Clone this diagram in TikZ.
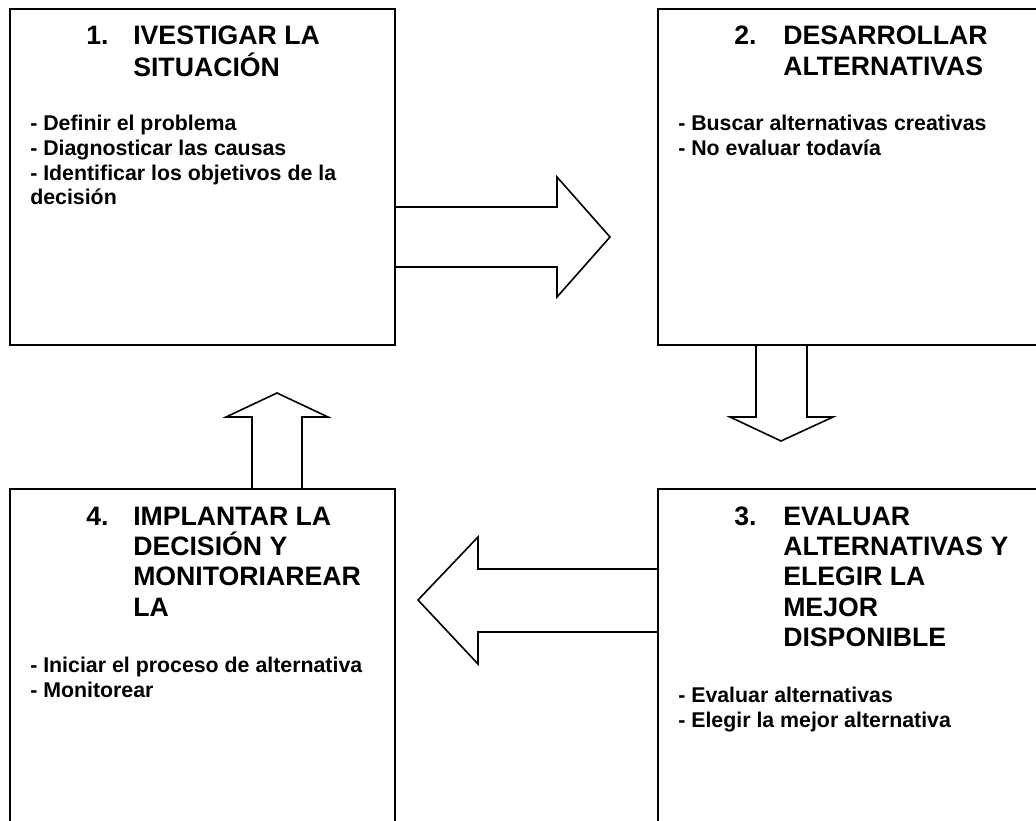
\documentclass[tikz,border=0pt]{standalone}
\usepackage{fontspec}
\setmainfont{Liberation Sans}
\begin{document}
\begin{tikzpicture}[x=0.75pt,y=-0.75pt,
  box/.style={draw, line width=1.2pt, anchor=north west, inner sep=0pt, outer sep=0pt},
  blockarrow/.style={draw, line width=1.2pt, line join=miter},
  ttl/.style={anchor=base west, inner sep=0pt, font=\bfseries\fontsize{20}{23}\selectfont},
  bdy/.style={anchor=base west, inner sep=0pt, font=\bfseries\fontsize{16}{19}\selectfont}]
\useasboundingbox (0,0) rectangle (1036,821);
\clip (0,0) rectangle (1036,821);
% boxes
\node[box, minimum width=288.75pt, minimum height=252pt] (b1) at (10,9) {};
\node[box, minimum width=300pt, minimum height=252pt] (b2) at (658,9) {};
\node[box, minimum width=300pt, minimum height=260pt] (b3) at (658,489) {};
\node[box, minimum width=288.75pt, minimum height=260pt] (b4) at (10,489) {};
% block arrows
\draw[blockarrow] (395,207) -- (557,207) -- (557,177) -- (610,237) -- (557,297) -- (557,267) -- (395,267);
\draw[blockarrow] (756,345) -- (756,417) -- (730,417) -- (781,441) -- (833,417) -- (807,417) -- (807,345);
\draw[blockarrow] (658,569) -- (478,569) -- (478,537) -- (418,600) -- (478,664) -- (478,632) -- (658,632);
\draw[blockarrow] (252,489) -- (252,417) -- (226,417) -- (277,393) -- (328,417) -- (302,417) -- (302,489);
% box 1
\node[ttl] (n1) at (86,45) {1.};
\node[ttl] (t1a) at (133,45) {IVESTIGAR LA};
\node[ttl] (t1b) at (133,76) {SITUACIÓN};
\node[bdy] (l1a) at (30,130) {- Definir el problema};
\node[bdy] (l1b) at (30,155.5) {- Diagnosticar las causas};
\node[bdy] (l1c) at (30,180.5) {- Identificar los objetivos de la};
\node[bdy] (l1d) at (30,204) {decisión};
% box 2
\node[ttl] (n2) at (734,45) {2.};
\node[ttl] (t2a) at (783,45) {DESARROLLAR};
\node[ttl] (t2b) at (783,75) {ALTERNATIVAS};
\node[bdy] (l2a) at (678,130) {- Buscar alternativas creativas};
\node[bdy] (l2b) at (678,155.5) {- No evaluar todavía};
% box 3
\node[ttl] (n3) at (734,525) {3.};
\node[ttl] (t3a) at (783,525) {EVALUAR};
\node[ttl] (t3b) at (783,555) {ALTERNATIVAS Y};
\node[ttl] (t3c) at (783,585.5) {ELEGIR LA};
\node[ttl] (t3d) at (783,616.5) {MEJOR};
\node[ttl] (t3e) at (783,646) {DISPONIBLE};
\node[bdy] (l3a) at (678,702) {- Evaluar alternativas};
\node[bdy] (l3b) at (678,727) {- Elegir la mejor alternativa};
% box 4
\node[ttl] (n4) at (86,525) {4.};
\node[ttl] (t4a) at (133,525) {IMPLANTAR LA};
\node[ttl] (t4b) at (133,555) {DECISIÓN Y};
\node[ttl] (t4c) at (133,585.5) {MONITORIAREAR};
\node[ttl] (t4d) at (133,616.5) {LA};
\node[bdy] (l4a) at (30,672.5) {- Iniciar el proceso de alternativa};
\node[bdy] (l4b) at (30,697.5) {- Monitorear};
\end{tikzpicture}
\end{document}
